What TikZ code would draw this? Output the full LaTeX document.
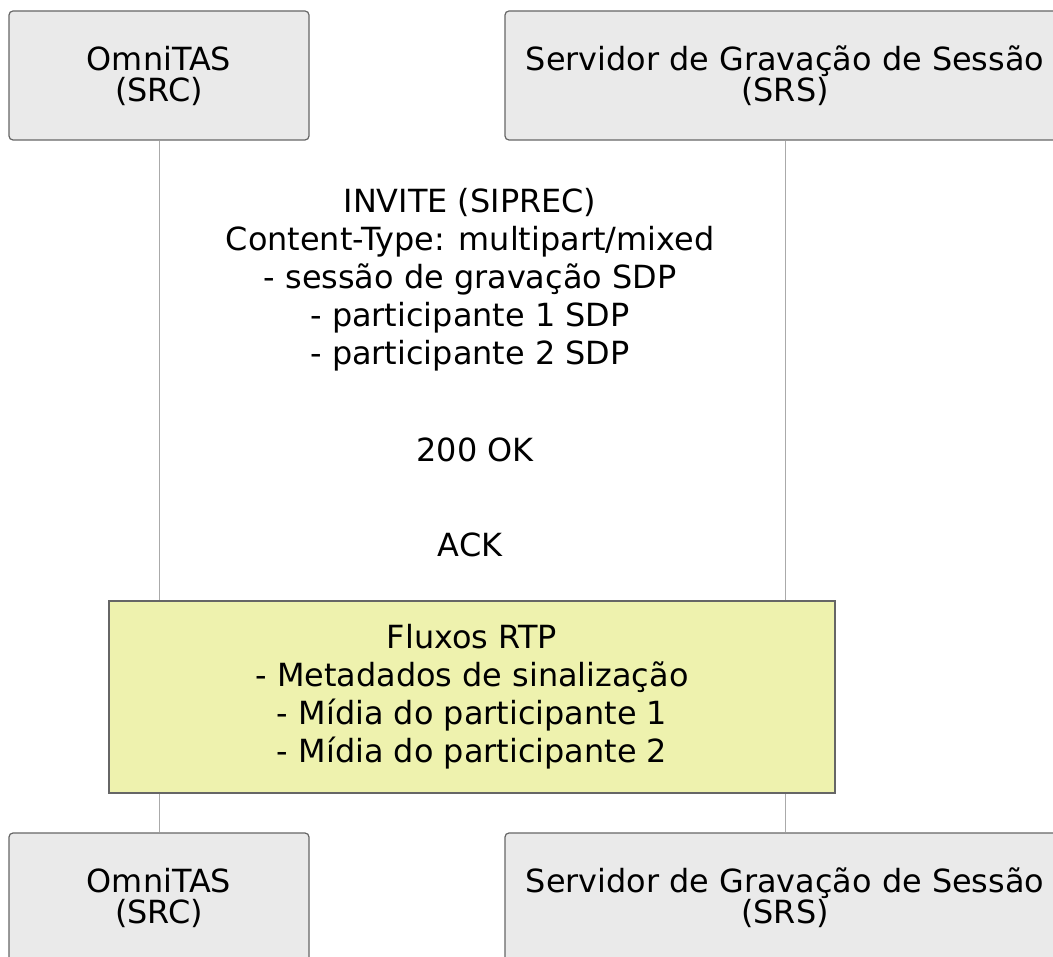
\documentclass[tikz,border=0pt]{standalone}
\usepackage{fontspec}
\setmainfont{DejaVu Sans}
\definecolor{actfill}{HTML}{EAEAEA}
\definecolor{actdraw}{HTML}{666666}
\definecolor{notefill}{HTML}{EEF2AE}
\definecolor{lifecol}{HTML}{AAAAAA}
\begin{document}
\begin{tikzpicture}[x=1pt,y=-1pt,
  actor/.style={draw=actdraw,fill=actfill,line width=1.2pt,rounded corners=4pt,
    minimum height=129pt,inner sep=0pt,align=center,
    font=\fontsize{31.9}{31}\selectfont},
  msg/.style={inner sep=0pt,align=center,font=\fontsize{31.9}{38}\selectfont},
  notebox/.style={draw=actdraw,fill=notefill,line width=1.2pt,minimum width=726pt,
    minimum height=192pt,inner sep=0pt,align=center,font=\fontsize{31.9}{38}\selectfont},
  life/.style={draw=lifecol,line width=1pt}]
\useasboundingbox (0,0) rectangle (1053,957);
\fill[white] (0,0) rectangle (1053,957);
% actors
\node[actor,minimum width=300pt] (srcT) at (159,75.5) {OmniTAS\\(SRC)};
\node[actor,minimum width=560pt] (srsT) at (785,75.5) {Servidor de Gravação de Sessão\\(SRS)};
\node[actor,minimum width=300pt] (srcB) at (159,897.5) {OmniTAS\\(SRC)};
\node[actor,minimum width=560pt] (srsB) at (785,897.5) {Servidor de Gravação de Sessão\\(SRS)};
% lifelines
\draw[life] (srcT.south) -- (srcB.north);
\draw[life] (srsT.south) -- (srsB.north);
% messages
\node[msg] (m1) at (470,280) {INVITE (SIPREC)\\Content-Type: multipart/mixed\\- sessão de gravação SDP\\- participante 1 SDP\\- participante 2 SDP};
\node[msg] (m2) at (475,450) {200 OK};
\node[msg] (m3) at (470,545) {ACK};
% note
\node[notebox] (note) at (472,697) {Fluxos RTP\\- Metadados de sinalização\\- Mídia do participante 1\\- Mídia do participante 2};
\end{tikzpicture}
\end{document}
